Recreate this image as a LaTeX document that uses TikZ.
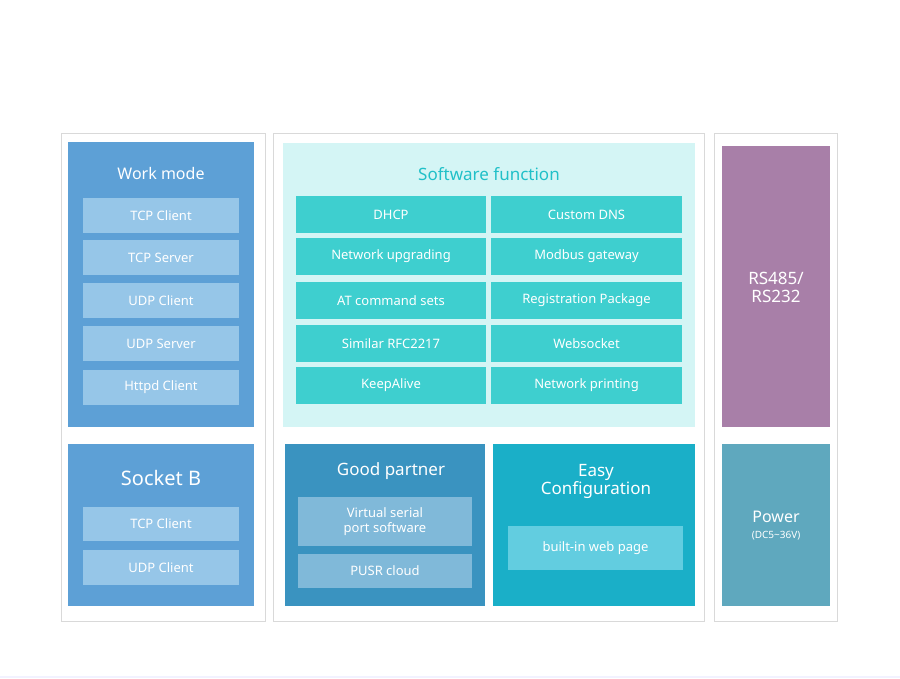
\documentclass[tikz,border=0pt]{standalone}
\usepackage{fontspec}
\setmainfont{Noto Sans}
\begin{document}
\begin{tikzpicture}[x=1pt,y=-1pt,
 frame/.style={draw=black!15,fill=white,line width=0.8pt},
 panel/.style={fill=#1,draw=none},
 item/.style={fill=#1,draw=none,text=white,font=\fontsize{13}{14}\selectfont,align=center},
 ttl/.style={text=white,font=\fontsize{16}{18}\selectfont,align=center}]
\definecolor{wblue}{HTML}{5DA0D6}\definecolor{litem}{HTML}{96C6E8}
\definecolor{sfbg}{HTML}{D4F5F5}\definecolor{sfitem}{HTML}{3ECFCF}\definecolor{sfttl}{HTML}{20C0C8}
\definecolor{gp}{HTML}{3A93C0}\definecolor{gpitem}{HTML}{80B9D9}
\definecolor{ec}{HTML}{1AAFC8}\definecolor{ecitem}{HTML}{62CDE0}
\definecolor{rs}{HTML}{A87FA8}\definecolor{pw}{HTML}{5FA8BE}
\useasboundingbox (0,0) rectangle (900,679);
\fill[white] (0,0) rectangle (900,679);
\draw[color=blue!5,line width=2pt] (0,677) -- (900,677);
\draw[frame] (61,133) rectangle (265,621);
\draw[frame] (273,133) rectangle (704,621);
\draw[frame] (714,133) rectangle (837,621);
% work mode
\fill[wblue] (68,142) rectangle (254,427);
\node[ttl] (wm) at (161,174) {Work mode};
\foreach \n/\y/\t in {a/198/TCP Client,b/240/TCP Server,c/283/UDP Client,d/326/UDP Server,e/370/Httpd Client}
 \node[item=litem,minimum width=156pt,minimum height=35pt] (w\n) at (161,\y+17.5) {\t};
% socket B
\fill[wblue] (68,444) rectangle (254,606);
\node[ttl,font=\fontsize{20}{22}\selectfont] (sb) at (161,478) {Socket B};
\node[item=litem,minimum width=156pt,minimum height=34pt] (sba) at (161,524) {TCP Client};
\node[item=litem,minimum width=156pt,minimum height=35pt] (sbb) at (161,567.5) {UDP Client};
% software function
\fill[sfbg] (283,143) rectangle (695,427);
\node[text=sfttl,font=\fontsize{17}{18}\selectfont] (sf) at (489,174) {Software function};
\foreach \n/\y/\l/\r in {a/196/DHCP/Custom DNS,b/238/Network upgrading/Modbus gateway,c/282/AT command sets/Registration Package,d/325/Similar RFC2217/Websocket,e/367/KeepAlive/Network printing}{
 \node[item=sfitem,minimum width=190pt,minimum height=37pt] (sl\n) at (391,\y+18.5) {\l};
 \node[item=sfitem,minimum width=191pt,minimum height=37pt] (sr\n) at (586.5,\y+18.5) {\r};}
% good partner
\fill[gp] (285,444) rectangle (485,606);
\node[ttl,font=\fontsize{17}{18}\selectfont] (gpt) at (391,471) {Good partner};
\node[item=gpitem,minimum width=174pt,minimum height=49pt,font=\fontsize{13}{15}\selectfont] (gpa) at (385,521.5) {Virtual serial\\port software};
\node[item=gpitem,minimum width=174pt,minimum height=34pt] (gpb) at (385,571) {PUSR cloud};
% easy config
\fill[ec] (493,444) rectangle (695,606);
\node[ttl,font=\fontsize{17}{18}\selectfont] (ect) at (596,481) {Easy\\Configuration};
\node[item=ecitem,minimum width=175pt,minimum height=44pt] (eca) at (595.5,548) {built-in web page};
% right
\fill[rs] (722,146) rectangle (830,427);
\node[ttl,font=\fontsize{17}{18}\selectfont] (rst) at (776,287) {RS485/\\RS232};
\fill[pw] (722,444) rectangle (830,606);
\node[ttl,font=\fontsize{16}{17}\selectfont] (pwt) at (776,517) {Power};
\node[text=white,font=\fontsize{10}{11}\selectfont] (pwv) at (776,536) {(DC5\textasciitilde36V)};
\end{tikzpicture}
\end{document}
